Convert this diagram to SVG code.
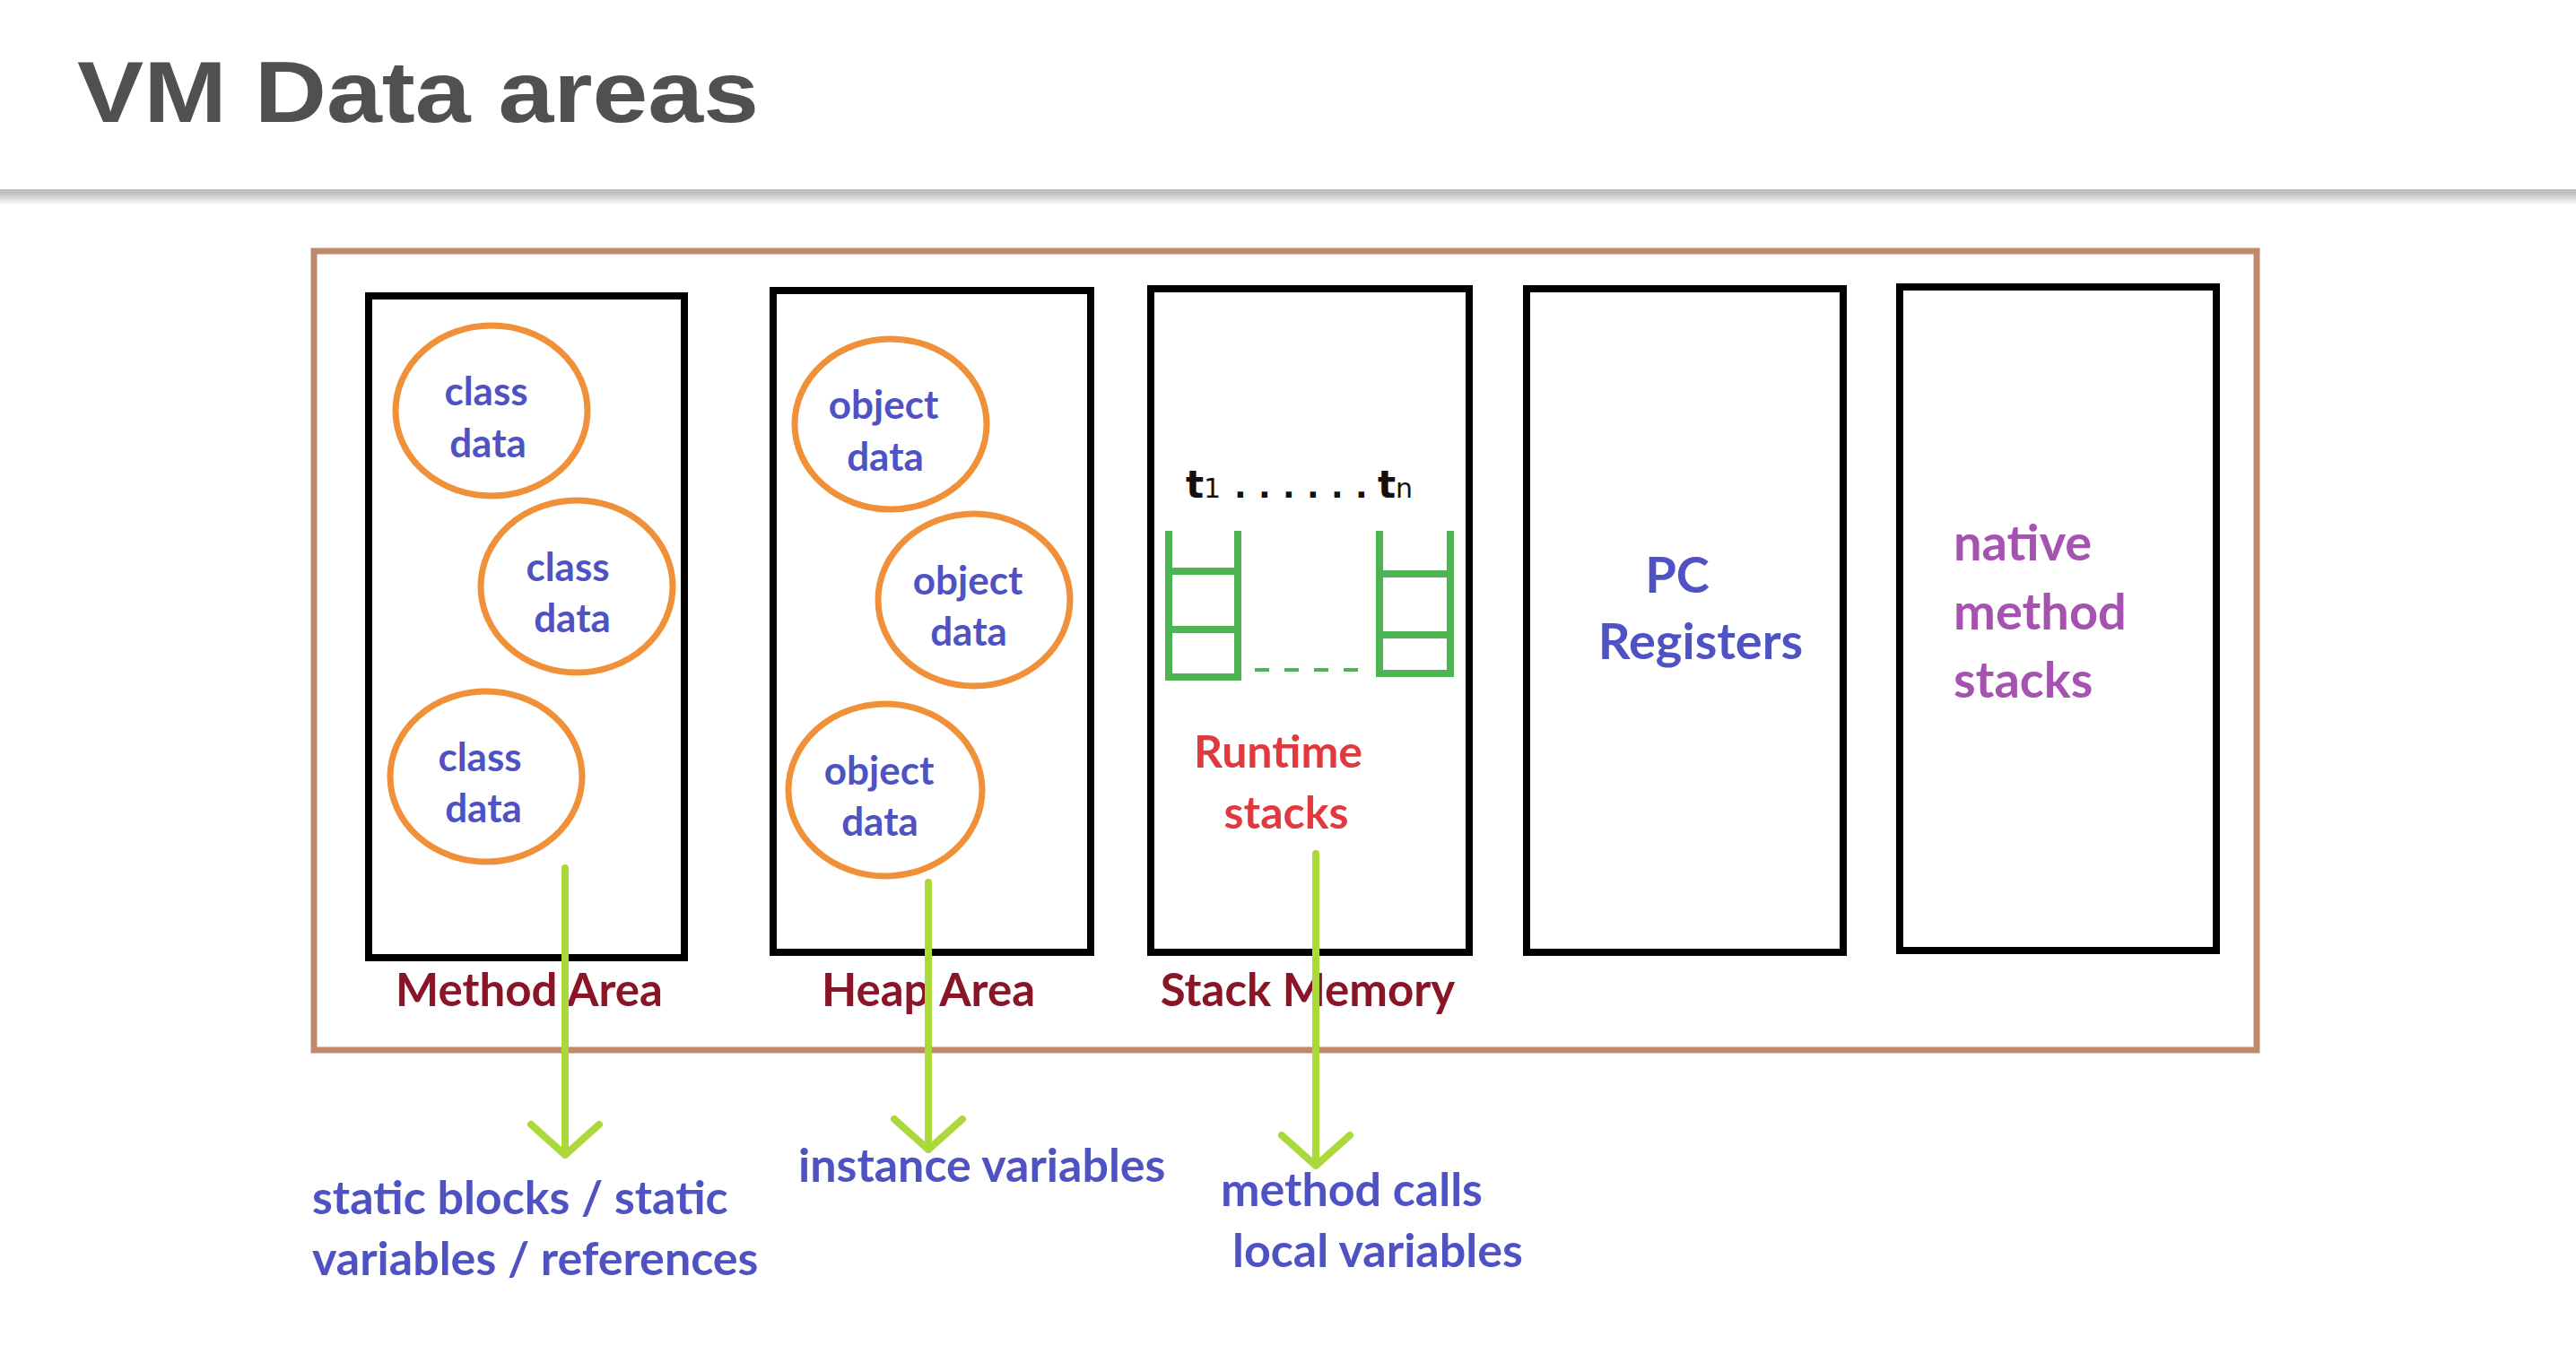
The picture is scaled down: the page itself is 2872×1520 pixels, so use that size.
<svg xmlns="http://www.w3.org/2000/svg" width="2872" height="1520" viewBox="0 0 2872 1520">
  <defs>
    <linearGradient id="shadow" x1="0" y1="0" x2="0" y2="1">
      <stop offset="0" stop-color="#c8c8c8"/>
      <stop offset="1" stop-color="#ffffff"/>
    </linearGradient>
  </defs>
  <style>
    .box { fill: #ffffff; stroke: #000000; stroke-width: 8; }
    .blob { fill: none; stroke: #f0913a; stroke-width: 7; }
    .t { font-family: Lato, "Open Sans", "Liberation Sans", sans-serif; font-weight: 700; }
    .blue { fill: #4e52c2; }
    .cd { font-size: 44px; text-anchor: middle; }
    .lbl { font-size: 51px; fill: #8a1526; text-anchor: middle; }
    .big { font-size: 56px; }
    .note { font-size: 52px; }
    .stk { fill: none; stroke: #4cb552; stroke-width: 8; }
    .arr { fill: none; stroke: #abd83a; stroke-width: 8; stroke-linecap: round; stroke-linejoin: round; }
    .th { font-family: "DejaVu Sans", sans-serif; fill: #111111; }
  </style>
  <rect x="0" y="0" width="2872" height="1520" fill="#ffffff"/>

  <g id="header">
    <text x="86" y="136" font-family="'Liberation Sans', Arial, sans-serif" font-weight="700" font-size="96" fill="#505050" textLength="760" lengthAdjust="spacingAndGlyphs">VM Data areas</text>
    <rect x="0" y="211" width="2872" height="6" fill="#c2c2c2"/>
    <rect x="0" y="217" width="2872" height="12" fill="url(#shadow)"/>
  </g>

  <g id="jvm-frame">
    <rect x="350" y="280" width="2166" height="891" fill="none" stroke="#bf8a6a" stroke-width="7"/>
  </g>

  <g id="method-area">
    <rect class="box" x="411" y="330" width="352" height="738"/>
    <ellipse class="blob" cx="548" cy="458" rx="107" ry="95"/>
    <ellipse class="blob" cx="643" cy="654" rx="107" ry="96"/>
    <ellipse class="blob" cx="542" cy="866" rx="107" ry="95"/>
    <text class="t blue cd" x="542" y="452">class</text>
    <text class="t blue cd" x="544" y="510">data</text>
    <text class="t blue cd" x="633" y="648">class</text>
    <text class="t blue cd" x="638" y="705">data</text>
    <text class="t blue cd" x="535" y="860">class</text>
    <text class="t blue cd" x="539" y="917">data</text>
    <text class="t lbl" x="590" y="1122">Method Area</text>
  </g>

  <g id="heap-area">
    <rect class="box" x="862" y="324" width="354" height="738"/>
    <ellipse class="blob" cx="993" cy="473" rx="107" ry="95"/>
    <ellipse class="blob" cx="1086" cy="669" rx="107" ry="96"/>
    <ellipse class="blob" cx="987" cy="881" rx="108" ry="96"/>
    <text class="t blue cd" x="985" y="467">object</text>
    <text class="t blue cd" x="987" y="525">data</text>
    <text class="t blue cd" x="1079" y="663">object</text>
    <text class="t blue cd" x="1080" y="720">data</text>
    <text class="t blue cd" x="980" y="875">object</text>
    <text class="t blue cd" x="981" y="932">data</text>
    <text class="t lbl" x="1035" y="1122">Heap Area</text>
  </g>

  <g id="stack-memory">
    <rect class="box" x="1283" y="322" width="355" height="740"/>
    <text class="th" x="1322" y="555"><tspan font-size="42" font-weight="700">t</tspan><tspan font-size="30">1</tspan></text>
    <text class="th" x="1376 1403 1430 1457 1484 1511" y="555" font-size="36" font-weight="700">......</text>
    <text class="th" x="1536" y="555"><tspan font-size="42" font-weight="700">t</tspan><tspan font-size="30">n</tspan></text>
    <path class="stk" d="M1303,592 V755 H1380 V592 M1303,637 H1380 M1303,702 H1380"/>
    <path class="stk" d="M1538,592 V751 H1617 V592 M1538,640 H1617 M1538,708 H1617"/>
    <line x1="1399" y1="747" x2="1515" y2="747" stroke="#4cb552" stroke-width="4" stroke-dasharray="16,17"/>
    <text class="t" x="1425" y="856" font-size="50" fill="#e03a3f" text-anchor="middle">Runtime</text>
    <text class="t" x="1434" y="924" font-size="50" fill="#e03a3f" text-anchor="middle">stacks</text>
    <text class="t lbl" x="1458" y="1122">Stack Memory</text>
  </g>

  <g id="pc-registers">
    <rect class="box" x="1702" y="322" width="353" height="740"/>
    <text class="t blue big" x="1870" y="661" text-anchor="middle">PC</text>
    <text class="t blue big" x="1896" y="735" text-anchor="middle">Registers</text>
  </g>

  <g id="native-method-stacks">
    <rect class="box" x="2118" y="320" width="353" height="740"/>
    <text class="t big" x="2178" y="625" fill="#a552b0">native</text>
    <text class="t big" x="2178" y="702" fill="#a552b0">method</text>
    <text class="t big" x="2178" y="778" fill="#a552b0">stacks</text>
  </g>

  <g id="connectors">
    <path class="arr" d="M630,968 V1288 M592,1254 L630,1288 L668,1254"/>
    <path class="arr" d="M1035,984 V1282 M997,1248 L1035,1282 L1073,1248"/>
    <path class="arr" d="M1467,952 V1300 M1429,1266 L1467,1300 L1505,1266"/>
  </g>

  <g id="annotations">
    <text class="t blue note" x="348" y="1354">static blocks / static</text>
    <text class="t blue note" x="348" y="1422">variables / references</text>
    <text class="t blue note" x="890" y="1318">instance variables</text>
    <text class="t blue note" x="1361" y="1345">method calls</text>
    <text class="t blue note" x="1374" y="1413">local variables</text>
  </g>
</svg>
